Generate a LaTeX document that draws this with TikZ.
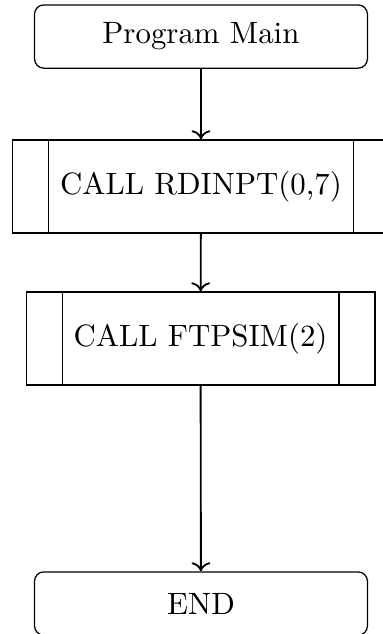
\documentclass[tikz,border=0pt]{standalone}
\usetikzlibrary{positioning,arrows.meta}

\begin{document}
\begin{tikzpicture}[
  term/.style={draw, rounded corners=3pt, align=center,
               minimum width=3.79cm, minimum height=0.72cm},
  subr/.style={draw, align=center, minimum height=1.06cm,
               path picture={
                 \draw ([xshift=0.41cm]path picture bounding box.north west)
                    -- ([xshift=0.41cm]path picture bounding box.south west);
                 \draw ([xshift=-0.41cm]path picture bounding box.north east)
                    -- ([xshift=-0.41cm]path picture bounding box.south east);}},
  ar/.style={->, semithick},
]
\useasboundingbox (0,0) rectangle (4.349,-7.218);

\node[term] (prog) at (2.288,-0.416) {Program Main};
\node[subr, minimum width=4.30cm] (rdin) at (2.288,-2.123) {CALL RDINPT(0,7)};
\node[subr, minimum width=3.97cm] (ftps) at (2.283,-3.854) {CALL FTPSIM(2)};
\node[term] (fin) at (2.288,-6.871) {END};

\draw[ar] (prog) -- (rdin);
\draw[ar] (rdin) -- (ftps);
\draw[ar] (ftps) -- (fin);

\end{tikzpicture}
\end{document}
